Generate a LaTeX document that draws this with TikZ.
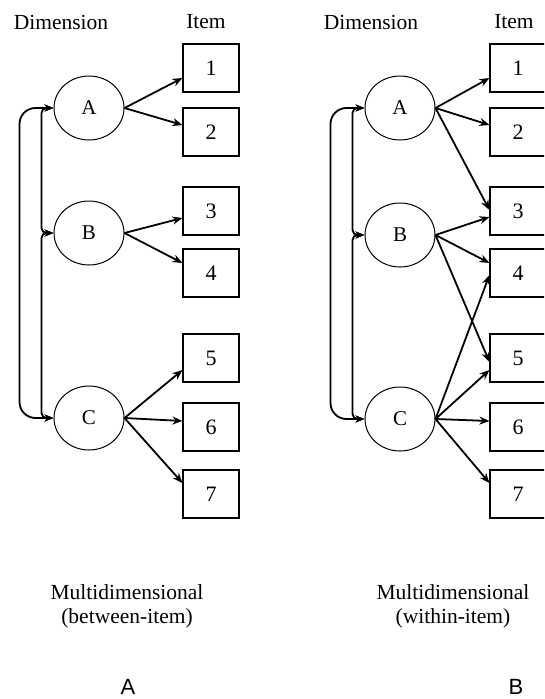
\documentclass[tikz,border=0pt]{standalone}
\usepackage{fontspec}
\setmainfont{Liberation Serif}
\newfontfamily\labsans{Liberation Sans}
\usetikzlibrary{arrows.meta,shapes.geometric,calc}
\begin{document}
\begin{tikzpicture}[x=1pt,y=-1pt,
 dim/.style={draw, ellipse, line width=1pt, minimum width=70pt, minimum height=64pt, inner sep=0pt, font=\fontsize{21}{24}\selectfont},
 itembox/.style={draw, line width=1.1pt, minimum width=56pt, minimum height=48pt, inner sep=0pt, font=\fontsize{22}{24}\selectfont},
 arr/.style={line width=1.8pt, -{Stealth[length=10pt,width=8pt]}},
 cor/.style={line width=1.8pt, {Stealth[length=9pt,width=7pt]}-{Stealth[length=9pt,width=7pt]}},
 hdr/.style={font=\fontsize{21.5}{25}\selectfont},
 capt/.style={align=center, font=\fontsize{21.5}{24}\selectfont},
 panel/.style={font=\labsans\fontsize{22}{26}\selectfont}]
\fill[white] (0,0) rectangle (544,699);
\useasboundingbox (0,0) rectangle (544,699);
\clip (0,0) rectangle (544,699);

% ---------- Panel A ----------
\node[hdr] (hdA) at (61,22) {Dimension};
\node[hdr] (hiA) at (206,22) {Item};
\node[dim] (aA) at (89,108) {A};
\node[dim] (aB) at (89,233) {B};
\node[dim] (aC) at (89,418) {C};
\node[itembox] (a1) at (211,68) {1};
\node[itembox] (a2) at (211,132) {2};
\node[itembox] (a3) at (211,211) {3};
\node[itembox] (a4) at (211,273) {4};
\node[itembox] (a5) at (211,358) {5};
\node[itembox] (a6) at (211,427) {6};
\node[itembox] (a7) at (211,494) {7};
\draw[arr] (aA.east) -- ($(a1.west)+(0,10)$);
\draw[arr] (aA.east) -- ($(a2.west)+(0,-7)$);
\draw[arr] (aB.east) -- ($(a3.west)+(0,7)$);
\draw[arr] (aB.east) -- ($(a4.west)+(0,-10)$);
\draw[arr] (aC.east) -- ($(a5.west)+(0,12)$);
\draw[arr] (aC.east) -- ($(a6.west)+(0,-6)$);
\draw[arr] (aC.east) -- ($(a7.west)+(0,-11)$);
\draw[cor, rounded corners=16pt] (aA.west) -- ++(-34,0) |- (aC.west);
\draw[cor, rounded corners=5pt] (aA.west) -- ++(-12,0) |- (aB.west);
\draw[cor, rounded corners=5pt] (aB.west) -- ++(-12,0) |- (aC.west);
\node[capt] (cA) at (127,606) {Multidimensional\\(between-item)};
\node[panel] (pA) at (128,687) {A};

% ---------- Panel B ----------
\node[hdr] (hdB) at (371,22) {Dimension};
\node[hdr] (hiB) at (514,22) {Item};
\node[dim] (bA) at (400,108) {A};
\node[dim] (bB) at (400,235) {B};
\node[dim] (bC) at (400,419) {C};
\node[itembox] (b1) at (518,68) {1};
\node[itembox] (b2) at (518,132) {2};
\node[itembox] (b3) at (518,211) {3};
\node[itembox] (b4) at (518,273) {4};
\node[itembox] (b5) at (518,358) {5};
\node[itembox] (b6) at (518,427) {6};
\node[itembox] (b7) at (518,494) {7};
\draw[arr] (bA.east) -- ($(b1.west)+(0,10)$);
\draw[arr] (bA.east) -- ($(b2.west)+(0,-7)$);
\draw[arr] (bA.east) -- ($(b3.west)+(0,-1)$);
\draw[arr] (bB.east) -- ($(b3.west)+(0,6)$);
\draw[arr] (bB.east) -- ($(b4.west)+(0,-10)$);
\draw[arr] (bB.east) -- ($(b5.west)+(0,4)$);
\draw[arr] (bC.east) -- ($(b4.west)+(0,2)$);
\draw[arr] (bC.east) -- ($(b5.west)+(0,12)$);
\draw[arr] (bC.east) -- ($(b6.west)+(0,-6)$);
\draw[arr] (bC.east) -- ($(b7.west)+(0,-11)$);
\draw[cor, rounded corners=16pt] (bA.west) -- ++(-34,0) |- (bC.west);
\draw[cor, rounded corners=5pt] (bA.west) -- ++(-12,0) |- (bB.west);
\draw[cor, rounded corners=5pt] (bB.west) -- ++(-12,0) |- (bC.west);
\node[capt] (cB) at (453,606) {Multidimensional\\(within-item)};
\node[panel] (pB) at (516,687) {B};
\end{tikzpicture}
\end{document}
